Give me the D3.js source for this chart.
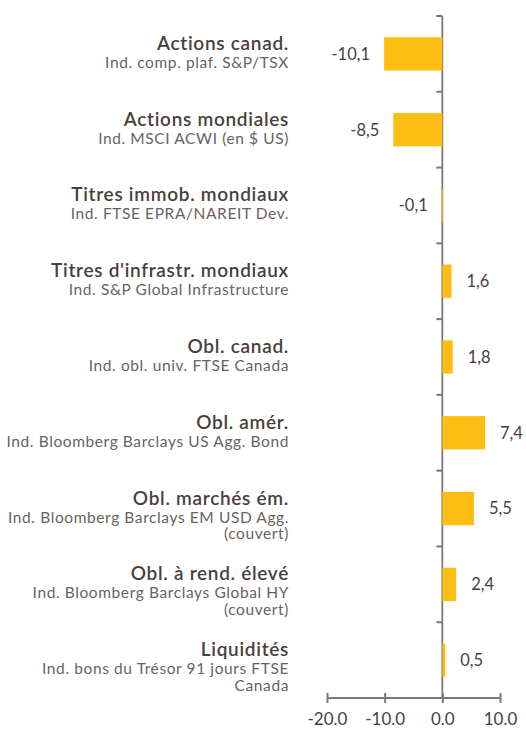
<!DOCTYPE html>
<html>
<head>
<meta charset="utf-8">
<script src="https://cdn.jsdelivr.net/npm/d3@7/dist/d3.min.js"></script>
<style>
  html, body { margin: 0; padding: 0; background: #ffffff; }
  svg { display: block; }
  text { font-family: Lato, "Open Sans", sans-serif; }
</style>
</head>
<body>
<svg id="chart" width="526" height="729"></svg>
<script>
const titles = [
  "Actions canad.",
  "Actions mondiales",
  "Titres immob. mondiaux",
  "Titres d'infrastr. mondiaux",
  "Obl. canad.",
  "Obl. amér.",
  "Obl. marchés ém.",
  "Obl. à rend. élevé",
  "Liquidités"
];
const subtitles = [
  ["Ind. comp. plaf. S&P/TSX"],
  ["Ind. MSCI ACWI (en $ US)"],
  ["Ind. FTSE EPRA/NAREIT Dev."],
  ["Ind. S&P Global Infrastructure"],
  ["Ind. obl. univ. FTSE Canada"],
  ["Ind. Bloomberg Barclays US Agg. Bond"],
  ["Ind. Bloomberg Barclays EM USD Agg.", "(couvert)"],
  ["Ind. Bloomberg Barclays Global HY", "(couvert)"],
  ["Ind. bons du Trésor 91 jours FTSE", "Canada"]
];
const values = [-10.1, -8.5, -0.1, 1.6, 1.8, 7.4, 5.5, 2.4, 0.5];
const xTicks = [-20, -10, 0, 10];

const svg = d3.select("#chart");
const barColor = "#FDBE14";
const axisColor = "#7f7872";
const titleColor = "#4a403b";
const subColor = "#6b625c";

const x = d3.scaleLinear().domain([-20, 10]).range([327, 500]);
const y = d3.scaleBand().domain(titles).range([16, 698]).padding(0);
const barH = y.bandwidth() * 0.44;

// y axis (vertical at zero), drawn under bars
const yAxis = d3.axisLeft(y).tickSize(0).tickFormat("");
const gy = svg.append("g").attr("transform", `translate(${x(0)},0)`).call(yAxis);
gy.select(".domain").attr("stroke", axisColor).attr("stroke-width", 1.8).attr("d", `M0,16V698`);
const bounds = titles.map(t => y(t));
svg.append("g").selectAll("line")
  .data(bounds)
  .enter().append("line")
  .attr("x1", x(0) - 6).attr("x2", x(0))
  .attr("y1", d => d).attr("y2", d => d)
  .attr("stroke", axisColor).attr("stroke-width", 2);

// bars
svg.append("g").selectAll("rect")
  .data(values)
  .enter().append("rect")
  .attr("x", d => x(Math.min(0, d)))
  .attr("width", d => Math.max(Math.abs(x(d) - x(0)), 1))
  .attr("y", (d, i) => y(titles[i]) + y.bandwidth() / 2 - barH / 2)
  .attr("height", barH)
  .attr("fill", barColor);

// value labels
svg.append("g").selectAll("text")
  .data(values)
  .enter().append("text")
  .attr("x", d => d < 0 ? x(d) - 14 : x(d) + 15)
  .attr("y", (d, i) => y(titles[i]) + y.bandwidth() / 2)
  .attr("dy", "0.36em")
  .attr("text-anchor", d => d < 0 ? "end" : "start")
  .attr("font-size", 16.5)
  .attr("fill", titleColor)
  .text(d => d.toFixed(1).replace(".", ","));

// category labels
const lab = svg.append("g").selectAll("g")
  .data(titles)
  .enter().append("g")
  .attr("transform", d => `translate(289,${y(d) + y.bandwidth() / 2})`);
lab.append("text")
  .attr("y", -4)
  .attr("text-anchor", "end")
  .attr("font-size", 19)
  .attr("font-weight", 600)
  .attr("letter-spacing", 0.7)
  .attr("fill", titleColor)
  .text(d => d);
lab.each(function(d, i) {
  const g = d3.select(this);
  subtitles[i].forEach((s, j) => {
    g.append("text")
      .attr("y", 14 + j * 16.5)
      .attr("text-anchor", "end")
      .attr("font-size", 15.5)
      .attr("letter-spacing", 0.6)
      .attr("fill", subColor)
      .text(s);
  });
});

// x axis
const xAxis = d3.axisBottom(x).tickValues(xTicks).tickSize(6).tickFormat(d => d.toFixed(1));
const gx = svg.append("g").attr("transform", "translate(0,698)").call(xAxis);
gx.select(".domain").attr("stroke", axisColor).attr("stroke-width", 2).attr("d", `M${x(-20)},0H${x(10)}`);
gx.selectAll(".tick line").attr("stroke", axisColor).attr("stroke-width", 2).attr("y1", -5).attr("y2", 5);
gx.selectAll(".tick text")
  .attr("y", 27)
  .attr("dy", 0)
  .attr("font-size", 17)
  .attr("font-family", "Lato, sans-serif")
  .attr("fill", titleColor);
</script>
</body>
</html>
